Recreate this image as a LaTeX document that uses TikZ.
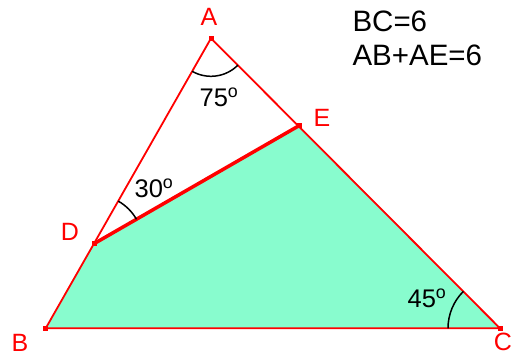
\documentclass[tikz,border=0pt]{standalone}
\usepackage{fontspec}
\setmainfont{Liberation Sans}
\usepackage{tikz}
\usetikzlibrary{angles}
\definecolor{mint}{RGB}{136,252,206}

\begin{document}
\begin{tikzpicture}[x=1pt,y=1pt,
  vlabel/.style={text=red,font=\fontsize{25}{27}\selectfont},
  alabel/.style={font=\fontsize{25.5}{27}\selectfont},
  given/.style={anchor=west,font=\fontsize{29.5}{32}\selectfont},
  side/.style={red,line width=1.8pt},
  vdot/.style={rectangle,fill=red,minimum size=5pt,inner sep=0pt},
  arc/.style={draw,black,line width=1.5pt}]
\useasboundingbox (0,0) rectangle (525,356);
\coordinate (A) at (211,317.7);
\coordinate (B) at (45.7,27.7);
\coordinate (C) at (500,27.7);
\coordinate (D) at (94,112.3);
\coordinate (E) at (299,230.3);
\fill[mint] (B)--(D)--(E)--(C)--cycle;
\draw[side] (A)--(B)--(C)--cycle;
\draw[red,line width=3.5pt] (D)--(E);
\path pic[arc,angle radius=38pt] {angle=B--A--E};
\path pic[arc,angle radius=49pt] {angle=E--D--A};
\path pic[arc,angle radius=52pt] {angle=E--C--B};
\foreach \p in {A,B,C,D,E} \node[vdot] (\p sq) at (\p) {};
\node[vlabel] (lA) at (209,339) {A};
\node[vlabel] (lB) at (20,13) {B};
\node[vlabel] (lC) at (503,14) {C};
\node[vlabel] (lD) at (70,124) {D};
\node[vlabel] (lE) at (322,238) {E};
\node[alabel] (a75) at (219,259) {75\textsuperscript{o}};
\node[alabel] (a30) at (154,168) {30\textsuperscript{o}};
\node[alabel] (a45) at (427,58) {45\textsuperscript{o}};
\node[given] (bc) at (349,334.3) {BC=6};
\node[given] (sum) at (349,301) {AB+AE=6};
\end{tikzpicture}
\end{document}
